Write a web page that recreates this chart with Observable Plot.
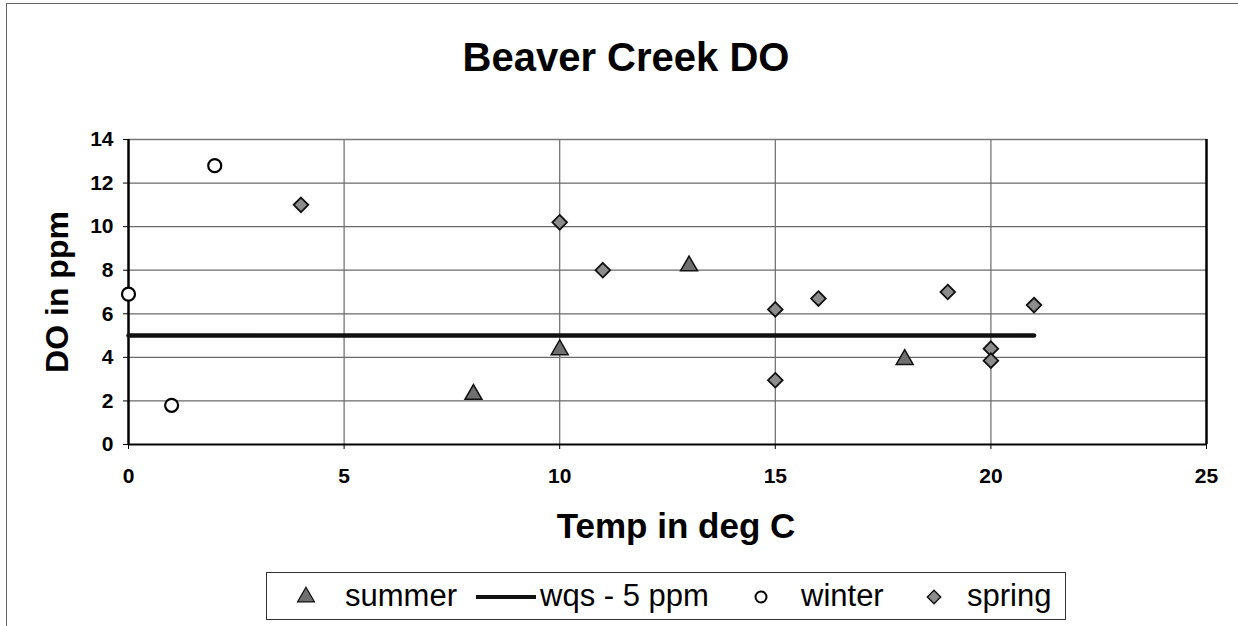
<!DOCTYPE html>
<html>
<head>
<meta charset="utf-8">
<script src="https://cdn.jsdelivr.net/npm/d3@7"></script>
<script src="https://cdn.jsdelivr.net/npm/@observablehq/plot@0.6"></script>
<style>
  html, body { margin: 0; padding: 0; background: #fff; }
  body { width: 1238px; height: 626px; overflow: hidden; font-family: "Liberation Sans", Arial, sans-serif; }
  #wrap { position: relative; width: 1238px; height: 626px; }
  #chart { position: absolute; left: 0; top: 0; }
  .abs { position: absolute; white-space: nowrap; color: #000; }
  #title { left: 626px; top: 57px; transform: translate(-50%, -50%); font-weight: bold; font-size: 40px; }
  #ylabel { font-weight: bold; font-size: 32px; left: 57px; top: 292px; transform: translate(-50%, -50%) rotate(-90deg); }
  #xlabel { font-weight: bold; font-size: 35px; left: 676px; top: 526px; transform: translate(-50%, -50%); }
  #frameL { left: 6px; top: 3px; width: 0; height: 640px; border-left: 1px solid #666; }
  #frameT { left: 6px; top: 3px; width: 1240px; height: 0; border-top: 1px solid #666; }
  #legend { left: 266px; top: 572px; width: 798px; height: 46px; border: 1px solid #333; }
  .lg { position: absolute; top: 0; height: 46px; line-height: 46px; font-size: 31px; }
  .lgsym { position: absolute; top: 0; }
</style>
</head>
<body>
<div id="wrap">
  <div id="chart"></div>
  <div class="abs" id="frameL"></div>
  <div class="abs" id="frameT"></div>
  <div class="abs" id="title">Beaver Creek DO</div>
  <div class="abs" id="ylabel">DO in ppm</div>
  <div class="abs" id="xlabel">Temp in deg C</div>
  <div class="abs" id="legend"></div>
</div>
<script>
// ---- data ----
const summerTemp = [8, 10, 13, 18];
const summerDO   = [2.3, 4.35, 8.2, 3.9];
const winterTemp = [0, 1, 2];
const winterDO   = [6.9, 1.8, 12.8];
const springTemp = [4, 10, 11, 15, 15, 16, 19, 20, 20, 21];
const springDO   = [11.0, 10.2, 8.0, 6.2, 2.95, 6.7, 7.0, 4.4, 3.85, 6.4];
const wqsTemp    = [0, 21];
const wqsDO      = [5, 5];
const xTicks = [0, 5, 10, 15, 20, 25];
const yTicks = [0, 2, 4, 6, 8, 10, 12, 14];
const seriesNames = ["summer", "wqs - 5 ppm", "winter", "spring"];

const toRows = (xs, ys) => xs.map((x, i) => ({x, y: ys[i]}));
const summer = toRows(summerTemp, summerDO);
const winter = toRows(winterTemp, winterDO);
const spring = toRows(springTemp, springDO);
const wqs = toRows(wqsTemp, wqsDO);

const plot = Plot.plot({
  width: 1238,
  height: 626,
  marginLeft: 128,
  marginRight: 32,
  marginTop: 139,
  marginBottom: 182,
  style: {fontFamily: "Liberation Sans, Arial, sans-serif", fontSize: "21px", fontWeight: "bold", color: "#000", background: "transparent"},
  x: {domain: [0, 25], label: null},
  y: {domain: [0, 14], label: null},
  marks: [
    Plot.gridY(yTicks, {stroke: "#6a6a6a", strokeOpacity: 1, strokeWidth: 1.2}),
    Plot.gridX(xTicks.slice(1, -1), {stroke: "#6a6a6a", strokeOpacity: 1, strokeWidth: 1.2}),
    Plot.ruleY([14], {stroke: "#777", strokeWidth: 1.5}),
    Plot.ruleX([0], {stroke: "#000", strokeWidth: 2.5}),
    Plot.ruleX([25], {stroke: "#000", strokeWidth: 2.5}),
    Plot.ruleY([0], {stroke: "#000", strokeWidth: 2}),
    Plot.axisX(xTicks, {tickSize: 5, tickPadding: 19, fontWeight: "bold", fontSize: 21, tickFormat: d => String(d), label: null}),
    Plot.axisY(yTicks, {tickSize: 5, tickPadding: 10, fontWeight: "bold", fontSize: 21, tickFormat: d => String(d), label: null}),
    Plot.line(wqs, {x: "x", y: "y", stroke: "#111", strokeWidth: 4.5}),
    Plot.dot(winter, {x: "x", y: "y", symbol: "circle", r: 6.5, fill: "#fff", stroke: "#000", strokeWidth: 2.2}),
    Plot.dot(summer, {x: "x", y: "y", symbol: "triangle", r: 6.3, fill: "#6f6f6f", stroke: "#111", strokeWidth: 1.5}),
    Plot.dot(spring, {x: "x", y: "y", symbol: "diamond2", r: 6.6, fill: "#8c8c8c", stroke: "#111", strokeWidth: 1.8})
  ]
});
document.getElementById("chart").appendChild(plot);

// ---- legend ----
const legend = document.getElementById("legend");
const L = 266; // legend box left in page coords
const items = [
  {name: seriesNames[0], sym: "triangle", symX: 305, textX: 344},
  {name: seriesNames[1], sym: "line", symX: 475, textX: 539},
  {name: seriesNames[2], sym: "circle", symX: 760, textX: 800},
  {name: seriesNames[3], sym: "diamond", symX: 933, textX: 966}
];
const ns = "http://www.w3.org/2000/svg";
for (const it of items) {
  const svg = document.createElementNS(ns, "svg");
  svg.setAttribute("class", "lgsym");
  if (it.sym === "line") {
    svg.setAttribute("width", 62); svg.setAttribute("height", 46);
    svg.style.left = (it.symX - L) + "px";
    const ln = document.createElementNS(ns, "line");
    ln.setAttribute("x1", 0); ln.setAttribute("x2", 60); ln.setAttribute("y1", 24); ln.setAttribute("y2", 24);
    ln.setAttribute("stroke", "#111"); ln.setAttribute("stroke-width", 4);
    svg.appendChild(ln);
  } else {
    svg.setAttribute("width", 24); svg.setAttribute("height", 46);
    svg.style.left = (it.symX - L - 12) + "px";
    const p = document.createElementNS(ns, "path");
    const sym = it.sym === "triangle" ? d3.symbolTriangle : it.sym === "circle" ? d3.symbolCircle : d3.symbolDiamond2;
    const r = it.sym === "circle" ? 5.5 : it.sym === "triangle" ? 6.3 : 6;
    p.setAttribute("d", d3.symbol(sym, Math.PI * r * r)());
    p.setAttribute("transform", "translate(12,24)");
    if (it.sym === "circle") { p.setAttribute("fill", "#fff"); p.setAttribute("stroke", "#000"); p.setAttribute("stroke-width", 2); }
    else if (it.sym === "triangle") { p.setAttribute("fill", "#6f6f6f"); p.setAttribute("stroke", "#111"); p.setAttribute("stroke-width", 1.2); }
    else { p.setAttribute("fill", "#8c8c8c"); p.setAttribute("stroke", "#111"); p.setAttribute("stroke-width", 1.4); }
    svg.appendChild(p);
  }
  legend.appendChild(svg);
  const t = document.createElement("div");
  t.className = "lg";
  t.style.left = (it.textX - L) + "px";
  t.textContent = it.name;
  legend.appendChild(t);
}
</script>
</body>
</html>
